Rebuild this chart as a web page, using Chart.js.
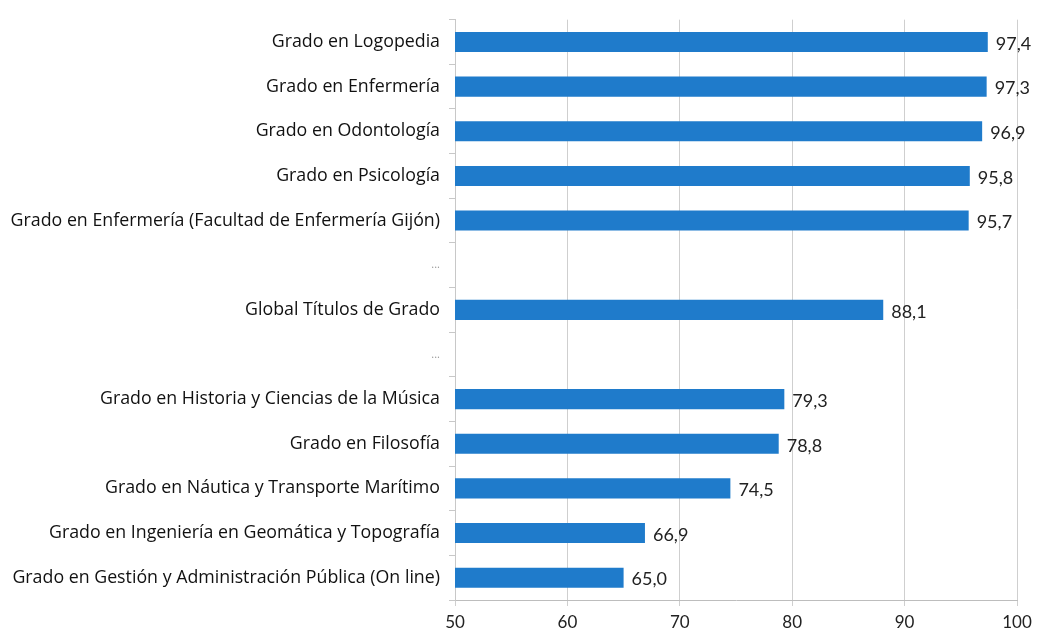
<!DOCTYPE html>
<html>
<head>
<meta charset="utf-8">
<script src="https://cdn.jsdelivr.net/npm/chart.js@4"></script>
<style>
  html, body { margin: 0; padding: 0; background: #fff; }
  #wrap { width: 1043px; height: 640px; }
</style>
</head>
<body>
<div id="wrap"><canvas id="chart"></canvas></div>
<script>
const categories = [
  "Grado en Logopedia",
  "Grado en Enfermería",
  "Grado en Odontología",
  "Grado en Psicología",
  "Grado en Enfermería (Facultad de Enfermería Gijón)",
  "...",
  "Global Títulos de Grado",
  "...",
  "Grado en Historia y Ciencias de la Música",
  "Grado en Filosofía",
  "Grado en Náutica y Transporte Marítimo",
  "Grado en Ingeniería en Geomática y Topografía",
  "Grado en Gestión y Administración Pública (On line)"
];
const values = [97.4, 97.3, 96.9, 95.8, 95.7, null, 88.1, null, 79.3, 78.8, 74.5, 66.9, 65.0];
const xTicks = [50, 60, 70, 80, 90, 100];

const FONT = "Lato, 'Open Sans', sans-serif";
const LABEL_FONT = "'Open Sans', sans-serif";

// labels at the bar ends, comma decimals
const barLabels = {
  id: "barLabels",
  afterDatasetsDraw(chart) {
    const ctx = chart.ctx;
    const meta = chart.getDatasetMeta(0);
    ctx.save();
    ctx.font = "18px " + FONT;
    ctx.fillStyle = "#222";
    ctx.textBaseline = "middle";
    meta.data.forEach((bar, i) => {
      if (values[i] == null) return;
      ctx.fillText(values[i].toFixed(1).replace(".", ","), bar.x + 8, bar.y + 2);
    });
    ctx.restore();
  }
};

new Chart(document.getElementById("chart"), {
  type: "bar",
  data: {
    labels: categories,
    datasets: [{
      data: values,
      backgroundColor: "#1f7bcb",
      barPercentage: 0.45,
      categoryPercentage: 1
    }]
  },
  options: {
    indexAxis: "y",
    responsive: true,
    maintainAspectRatio: false,
    animation: false,
    layout: { padding: { top: 16, right: 26, left: 0, bottom: 0 } },
    plugins: { legend: { display: false }, tooltip: { enabled: false } },
    scales: {
      x: {
        min: 50,
        max: 100,
        afterBuildTicks: (s) => { s.ticks = xTicks.map((v) => ({ value: v })); },
        afterFit: (s) => { s.height = 40; },
        grid: { color: "#cfcfcf", tickLength: 6 },
        border: { color: "#bdbdbd" },
        ticks: { color: "#222", padding: 6, font: { size: 17, family: FONT } }
      },
      y: {
        afterFit: (s) => { s.width = 455; },
        grid: { drawOnChartArea: false, tickLength: 6, color: "#c8c8c8" },
        border: { color: "#c8c8c8" },
        ticks: {
          padding: 9,
          color: (c) => (categories[c.index] === "..." ? "#999" : "#111"),
          font: (c) => ({
            size: categories[c.index] === "..." ? 11 : 17.8,
            family: LABEL_FONT
          })
        }
      }
    }
  },
  plugins: [barLabels]
});
</script>
</body>
</html>
